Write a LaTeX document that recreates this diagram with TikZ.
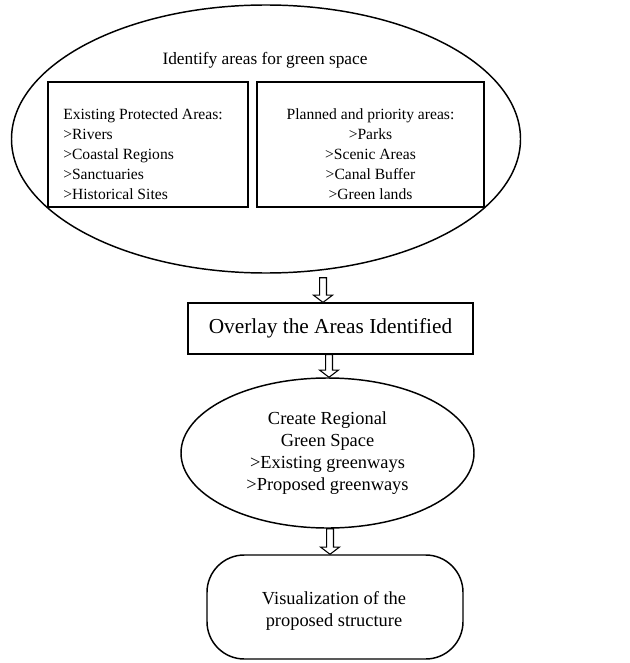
\documentclass[tikz,border=0pt]{standalone}
\usepackage{fontspec}
\setmainfont{Liberation Serif}
\usetikzlibrary{shapes.geometric,calc}
\tikzset{
  ell/.style={draw, ellipse, line width=1.1pt, inner sep=0pt},
  box/.style={draw, rectangle, line width=0.9pt, inner sep=0pt},
  blockarr/.style={draw, line width=0.8pt, fill=white, line join=miter},
  boxtext/.style={font=\fontsize{11.7}{15}\selectfont, inner sep=0pt}
}
% #1 start point, #2 end point (tip), #3 point giving the x position
\newcommand{\blockarrow}[3]{%
  \draw[blockarr] let \p1=(#1), \p2=(#2), \p3=(#3) in
    (\x3-2.6pt,\y1) -- (\x3-2.6pt,\y2+5.4pt) -- (\x3-7.1pt,\y2+5.4pt) --
    (\x3,\y2) -- (\x3+7.1pt,\y2+5.4pt) -- (\x3+2.6pt,\y2+5.4pt) --
    (\x3+2.6pt,\y1) -- cycle;}
\begin{document}
\begin{tikzpicture}[x=0.75pt,y=-0.75pt]
\useasboundingbox (0,0) rectangle (629,663);
% top ellipse with two boxes
\node[ell, minimum width=381.75pt, minimum height=201pt] (big) at (266,139) {};
\node[font=\fontsize{13}{15}\selectfont, inner sep=0pt] (title) at (265,60) {Identify areas for green space};
\node[box, minimum width=150pt, minimum height=93.75pt] (left) at (148,144.5) {};
\node[box, minimum width=170.25pt, minimum height=93.75pt] (right) at (370.5,144.5) {};
\node[boxtext, anchor=west, align=left] (lefttext) at (63,154.5)
  {Existing Protected Areas:\\>Rivers\\>Coastal Regions\\>Sanctuaries\\>Historical Sites};
\node[boxtext, align=center] (righttext) at (370.5,154.5)
  {Planned and priority areas:\\>Parks\\>Scenic Areas\\>Canal Buffer\\>Green lands};
% overlay box
\node[box, minimum width=213.75pt, minimum height=38.25pt, font=\fontsize{16}{19}\selectfont] (overlay) at (330.5,328.5) {Overlay the Areas Identified};
% create ellipse
\node[ell, minimum width=219.75pt, minimum height=112.5pt, align=center, font=\fontsize{13.8}{16.3}\selectfont] (create) at (327.5,453)
  {Create Regional\\Green Space\\>Existing greenways\\>Proposed greenways};
% visualization rounded box
\node[draw, line width=1.1pt, rounded corners=28pt, minimum width=192pt, minimum height=78pt, inner sep=0pt] (vis) at (335,607) {};
\node[align=center, inner sep=0pt, font=\fontsize{13.8}{16.5}\selectfont] (vistext) at (334,611)
  {Visualization of the\\proposed structure};
% block arrows
\coordinate (ax1) at (323,0);
\coordinate (ax2) at (329,0);
\coordinate (ax3) at (330,0);
\blockarrow{$(big.south)+(0,4)$}{overlay.north}{ax1}
\blockarrow{overlay.south}{create.north}{ax2}
\blockarrow{create.south}{vis.north}{ax3}
\end{tikzpicture}
\end{document}
